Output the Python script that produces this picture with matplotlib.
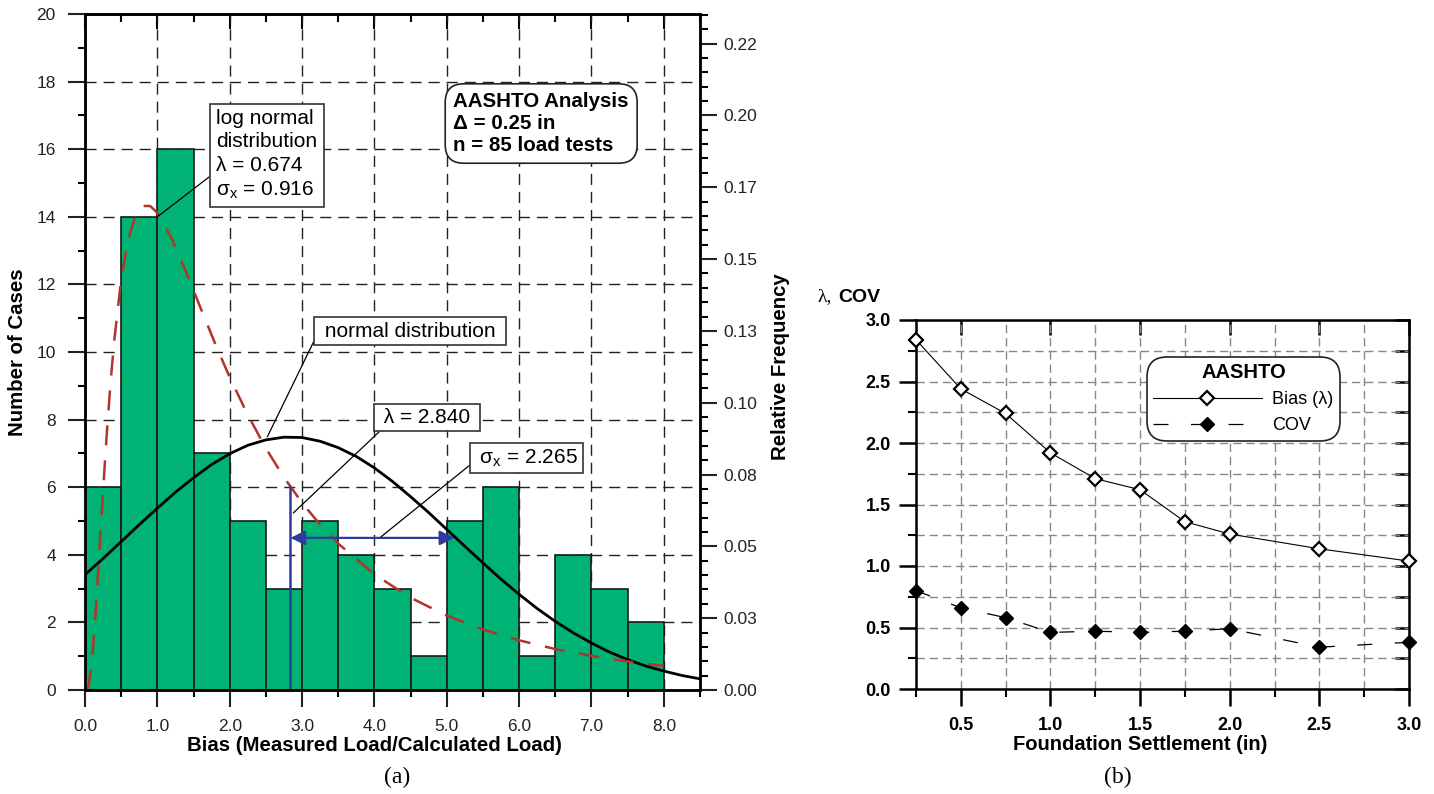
import matplotlib.pyplot as plt
import numpy as np
from matplotlib.ticker import MultipleLocator, NullFormatter

plt.rcParams['font.family'] = ['Liberation Sans', 'DejaVu Sans']
plt.rcParams['mathtext.fontset'] = 'custom'
plt.rcParams['mathtext.rm'] = 'Liberation Sans'
plt.rcParams['mathtext.bf'] = 'Liberation Sans:bold'

# --------------------------------------------------------------
# Panel (a): histogram of bias, AASHTO, delta = 0.25 in
# --------------------------------------------------------------
bin_edges = [0.0, 0.5, 1.0, 1.5, 2.0, 2.5, 3.0, 3.5, 4.0, 4.5, 5.0, 5.5, 6.0, 6.5, 7.0, 7.5, 8.0]
case_counts = [6, 14, 16, 7, 5, 3, 5, 4, 3, 1, 5, 6, 1, 4, 3, 2]
n_tests = 85

# fitted curves (number of cases)
normal_x = [0.0, 0.25, 0.5, 0.75, 1.0, 1.25, 1.5, 1.75, 2.0, 2.25, 2.5, 2.75, 3.0, 3.25, 3.5,
            3.75, 4.0, 4.25, 4.5, 4.75, 5.0, 5.25, 5.5, 5.75, 6.0, 6.25, 6.5, 6.75, 7.0, 7.25,
            7.5, 7.75, 8.0, 8.25, 8.5]
normal_y = [3.41, 3.89, 4.39, 4.89, 5.38, 5.85, 6.28, 6.67, 6.99, 7.24, 7.40, 7.48, 7.47, 7.36, 7.17,
            6.91, 6.57, 6.17, 5.72, 5.25, 4.75, 4.25, 3.76, 3.28, 2.83, 2.41, 2.03, 1.69, 1.39, 1.12,
            0.90, 0.71, 0.56, 0.43, 0.33]
lognormal_x = [0.03, 0.05, 0.1, 0.15, 0.2, 0.25, 0.3, 0.35, 0.4, 0.5, 0.6, 0.7, 0.8, 0.9, 1.0, 1.2,
               1.4, 1.6, 1.8, 2.0, 2.25, 2.5, 2.75, 3.0, 3.25, 3.5, 4.0, 4.5, 5.0, 5.5, 6.0, 6.5,
               7.0, 7.5, 8.0]
lognormal_y = [0.02, 0.12, 0.94, 2.40, 4.14, 5.90, 7.55, 9.00, 10.25, 12.16, 13.36, 14.04, 14.32,
               14.32, 14.12, 13.35, 12.35, 11.29, 10.24, 9.25, 8.14, 7.15, 6.29, 5.54, 4.89, 4.33,
               3.42, 2.73, 2.20, 1.79, 1.47, 1.21, 1.01, 0.845, 0.713]

lam_normal = 2.840
sigma_normal = 2.265
lam_line_top = 6.0
sigma_arrow_y = 4.5

freq_ticks = [0.0, 0.025, 0.05, 0.075, 0.10, 0.125, 0.15, 0.175, 0.20, 0.225]
freq_labels = ['0.00', '0.03', '0.05', '0.08', '0.10', '0.13', '0.15', '0.17', '0.20', '0.22']

# --------------------------------------------------------------
# Panel (b): bias and COV vs settlement
# --------------------------------------------------------------
settlement = [0.25, 0.5, 0.75, 1.0, 1.25, 1.5, 1.75, 2.0, 2.5, 3.0]
bias = [2.84, 2.44, 2.24, 1.92, 1.71, 1.62, 1.36, 1.26, 1.14, 1.04]
cov = [0.80, 0.66, 0.58, 0.46, 0.47, 0.46, 0.47, 0.49, 0.34, 0.38]
settle_ticks = [0.5, 1.0, 1.5, 2.0, 2.5, 3.0]
settle_labels = ['0.5', '1.0', '1.5', '2.0', '2.5', '3.0']
value_ticks = [0.0, 0.5, 1.0, 1.5, 2.0, 2.5, 3.0]
value_labels = ['0.0', '0.5', '1.0', '1.5', '2.0', '2.5', '3.0']

W, H = 1434, 794
BAR_GREEN = '#00B274'
LOG_RED = '#B0352C'
ARROW_BLUE = '#2E3A9C'


def px_axes(x0, y_top, x1, y_bot):
    return [x0 / W, 1 - y_bot / H, (x1 - x0) / W, (y_bot - y_top) / H]


fig = plt.figure(figsize=(W / 100, H / 100), dpi=100)

# ---------------------------- (a) ----------------------------
ax = fig.add_axes(px_axes(85, 14, 700, 690))
ax.bar(bin_edges[:-1], case_counts, width=0.5, align='edge', color=BAR_GREEN,
       edgecolor='#1a1a1a', linewidth=1.2, zorder=2)
ax.plot(normal_x, normal_y, color='black', lw=2.0, zorder=4)
ax.plot(lognormal_x, lognormal_y, color=LOG_RED, lw=1.8, ls=(0, (8, 6)), zorder=4)

ax.plot([lam_normal, lam_normal], [0, lam_line_top], color=ARROW_BLUE, lw=1.8, zorder=5)
ax.annotate('', xy=(lam_normal + sigma_normal, sigma_arrow_y), xytext=(lam_normal, sigma_arrow_y),
            arrowprops=dict(arrowstyle='<|-|>', color=ARROW_BLUE, lw=1.6, mutation_scale=22,
                            shrinkA=0, shrinkB=0), zorder=5)

ax.set_xlim(0, 8.5)
ax.set_ylim(0, 20)
ax.xaxis.set_major_locator(MultipleLocator(1))
ax.xaxis.set_minor_locator(MultipleLocator(0.5))
ax.yaxis.set_major_locator(MultipleLocator(2))
ax.yaxis.set_minor_locator(MultipleLocator(1))
ax.xaxis.set_major_formatter(lambda v, p: f'{v:.1f}')
ax.set_axisbelow(True)
ax.grid(which='major', color='#222222', ls=(0, (8, 5)), lw=1.0)
ax.tick_params(which='major', direction='out', length=12, width=1.5, labelsize=12.5, pad=9, colors='#222222')
ax.tick_params(which='minor', direction='out', length=5, width=1.5)
ax.tick_params(axis='y', right=False)
for s in ax.spines.values():
    s.set_linewidth(1.8)
    s.set_color('#1a1a1a')

top = ax.secondary_xaxis('top')
top.xaxis.set_major_locator(MultipleLocator(1))
top.xaxis.set_minor_locator(MultipleLocator(0.5))
top.xaxis.set_major_formatter(NullFormatter())
top.tick_params(which='major', direction='in', length=11, width=1.5)
top.tick_params(which='minor', direction='in', length=6, width=1.5)
top.spines['top'].set_linewidth(1.8)

ax2 = ax.twinx()
ax2.set_ylim(0, 20 / n_tests)
ax2.set_yticks(freq_ticks)
ax2.set_yticklabels(freq_labels)
ax2.yaxis.set_minor_locator(MultipleLocator(0.005))
ax2.tick_params(which='major', direction='out', length=12, width=1.5, labelsize=12.5, pad=5, colors='#222222')
ax2.tick_params(which='minor', direction='out', length=6, width=1.5)
for s in ax2.spines.values():
    s.set_linewidth(1.8)

ax.set_xlabel('Bias (Measured Load/Calculated Load)', fontsize=14.7, fontweight='bold')
ax.xaxis.set_label_coords(0.471, -0.068)
ax.set_ylabel('Number of Cases', fontsize=14.7, fontweight='bold')
ax.yaxis.set_label_coords(-0.095, 0.5)
ax2.set_ylabel('Relative Frequency', fontsize=14.7, fontweight='bold', rotation=90)
ax2.yaxis.set_label_coords(1.115, 0.479)

line_kw = dict(arrowstyle='-', color='black', lw=0.9, shrinkA=0, shrinkB=0)


def box(pad):
    return dict(boxstyle=f'square,pad={pad}', fc='white', ec='#333333', lw=1.2)


ax2.annotate('log normal\ndistribution\nλ = 0.674\nσ$_\\mathregular{x}$ = 0.916',
             xy=(1.0, 14.0), xycoords=ax.transData, xytext=(2.514, 15.83), textcoords=ax.transData,
             ha='center', va='center', multialignment='left', fontsize=15, linespacing=1.28,
             bbox=box(0.32), arrowprops=dict(line_kw, relpos=(0, 0.32)))
ax2.annotate(' normal distribution ', xy=(2.52, 7.49), xycoords=ax.transData,
             xytext=(4.49, 10.61), textcoords=ax.transData, ha='center', va='center',
             fontsize=15, bbox=box(0.22), arrowprops=dict(line_kw, relpos=(0, 0.5)))
ax2.annotate(' λ = 2.840 ', xy=(2.88, 5.24), xycoords=ax.transData,
             xytext=(4.73, 8.06), textcoords=ax.transData, ha='center', va='center',
             fontsize=15, bbox=box(0.2), arrowprops=dict(line_kw, relpos=(0.06, 0)))
ax2.annotate(' σ$_\\mathregular{x}$ = 2.265 ', xy=(4.09, 4.53), xycoords=ax.transData,
             xytext=(6.10, 6.86), textcoords=ax.transData, ha='center', va='center',
             fontsize=15, bbox=box(0.2), arrowprops=dict(line_kw, relpos=(0, 0.33)))
ax2.text(6.305, 16.76, 'AASHTO Analysis\nΔ = 0.25 in\nn = 85 load tests', transform=ax.transData,
         ha='center', va='center', multialignment='left', fontsize=14.8, fontweight='bold',
         linespacing=1.2, bbox=dict(boxstyle='round,pad=0.4,rounding_size=0.9', fc='white',
                                    ec='#222222', lw=1.2))

fig.text(397 / W, 1 - 777 / H, '(a)', family='Liberation Serif', fontsize=17, ha='center', va='center')

# ---------------------------- (b) ----------------------------
axb = fig.add_axes(px_axes(916, 320, 1409, 689))
axb.plot(settlement, bias, color='black', lw=0.8, marker='D', ms=7.5, mfc='white', mec='black',
         mew=1.6, label='Bias (λ)', zorder=4, clip_on=False)
axb.plot(settlement, cov, color='black', lw=0.9, ls=(0, (12, 18)), marker='D', ms=7.5, mfc='black',
         mec='black', label='COV', zorder=4, clip_on=False)
axb.set_xlim(0.25, 3.0)
axb.set_ylim(0, 3.0)
axb.set_xticks(settle_ticks)
axb.set_xticklabels(settle_labels, fontweight='bold')
axb.xaxis.set_minor_locator(MultipleLocator(0.25))
axb.set_yticks(value_ticks)
axb.set_yticklabels(value_labels, fontweight='bold')
axb.yaxis.set_minor_locator(MultipleLocator(0.25))
axb.set_axisbelow(True)
axb.grid(which='both', color='#888888', ls=(0, (6, 3.5)), lw=1.0)
axb.tick_params(which='major', direction='out', length=12, width=1.8, labelsize=13, pad=8)
axb.tick_params(axis='y', which='major', pad=6)
axb.tick_params(which='minor', direction='out', length=6, width=1.5)
for s in axb.spines.values():
    s.set_linewidth(1.8)

topb = axb.secondary_xaxis('top')
topb.set_xticks(settle_ticks)
topb.xaxis.set_major_formatter(NullFormatter())
topb.tick_params(direction='in', length=11, width=1.8)
rightb = axb.secondary_yaxis('right')
rightb.yaxis.set_major_locator(MultipleLocator(0.25))
rightb.yaxis.set_major_formatter(NullFormatter())
rightb.tick_params(direction='in', length=10, width=1.8)

axb.set_xlabel('Foundation Settlement (in)', fontsize=14.5, fontweight='bold')
axb.xaxis.set_label_coords(0.454, -0.125)

fig.text(818 / W, 1 - 297 / H, 'λ,', family='Liberation Serif', fontsize=14, ha='left', va='center')
fig.text(838 / W, 1 - 297 / H, 'COV', fontsize=14, fontweight='bold', ha='left', va='center')

leg = axb.legend(loc='upper left', bbox_to_anchor=(1147 / W, 1 - 357 / H), bbox_transform=fig.transFigure,
                 title='AASHTO', title_fontproperties={'weight': 'bold', 'size': 14.5}, fontsize=13,
                 handlelength=6.0, handletextpad=0.6, labelspacing=0.5, borderpad=0.35,
                 borderaxespad=0, frameon=True, fancybox=True, framealpha=1, edgecolor='#222222')
leg.get_frame().set_linewidth(1.2)
leg.get_frame().set_boxstyle('round,pad=0,rounding_size=1.1')

fig.text(1118 / W, 1 - 777 / H, '(b)', family='Liberation Serif', fontsize=17, ha='center', va='center')

plt.savefig('out.png', dpi=100)
